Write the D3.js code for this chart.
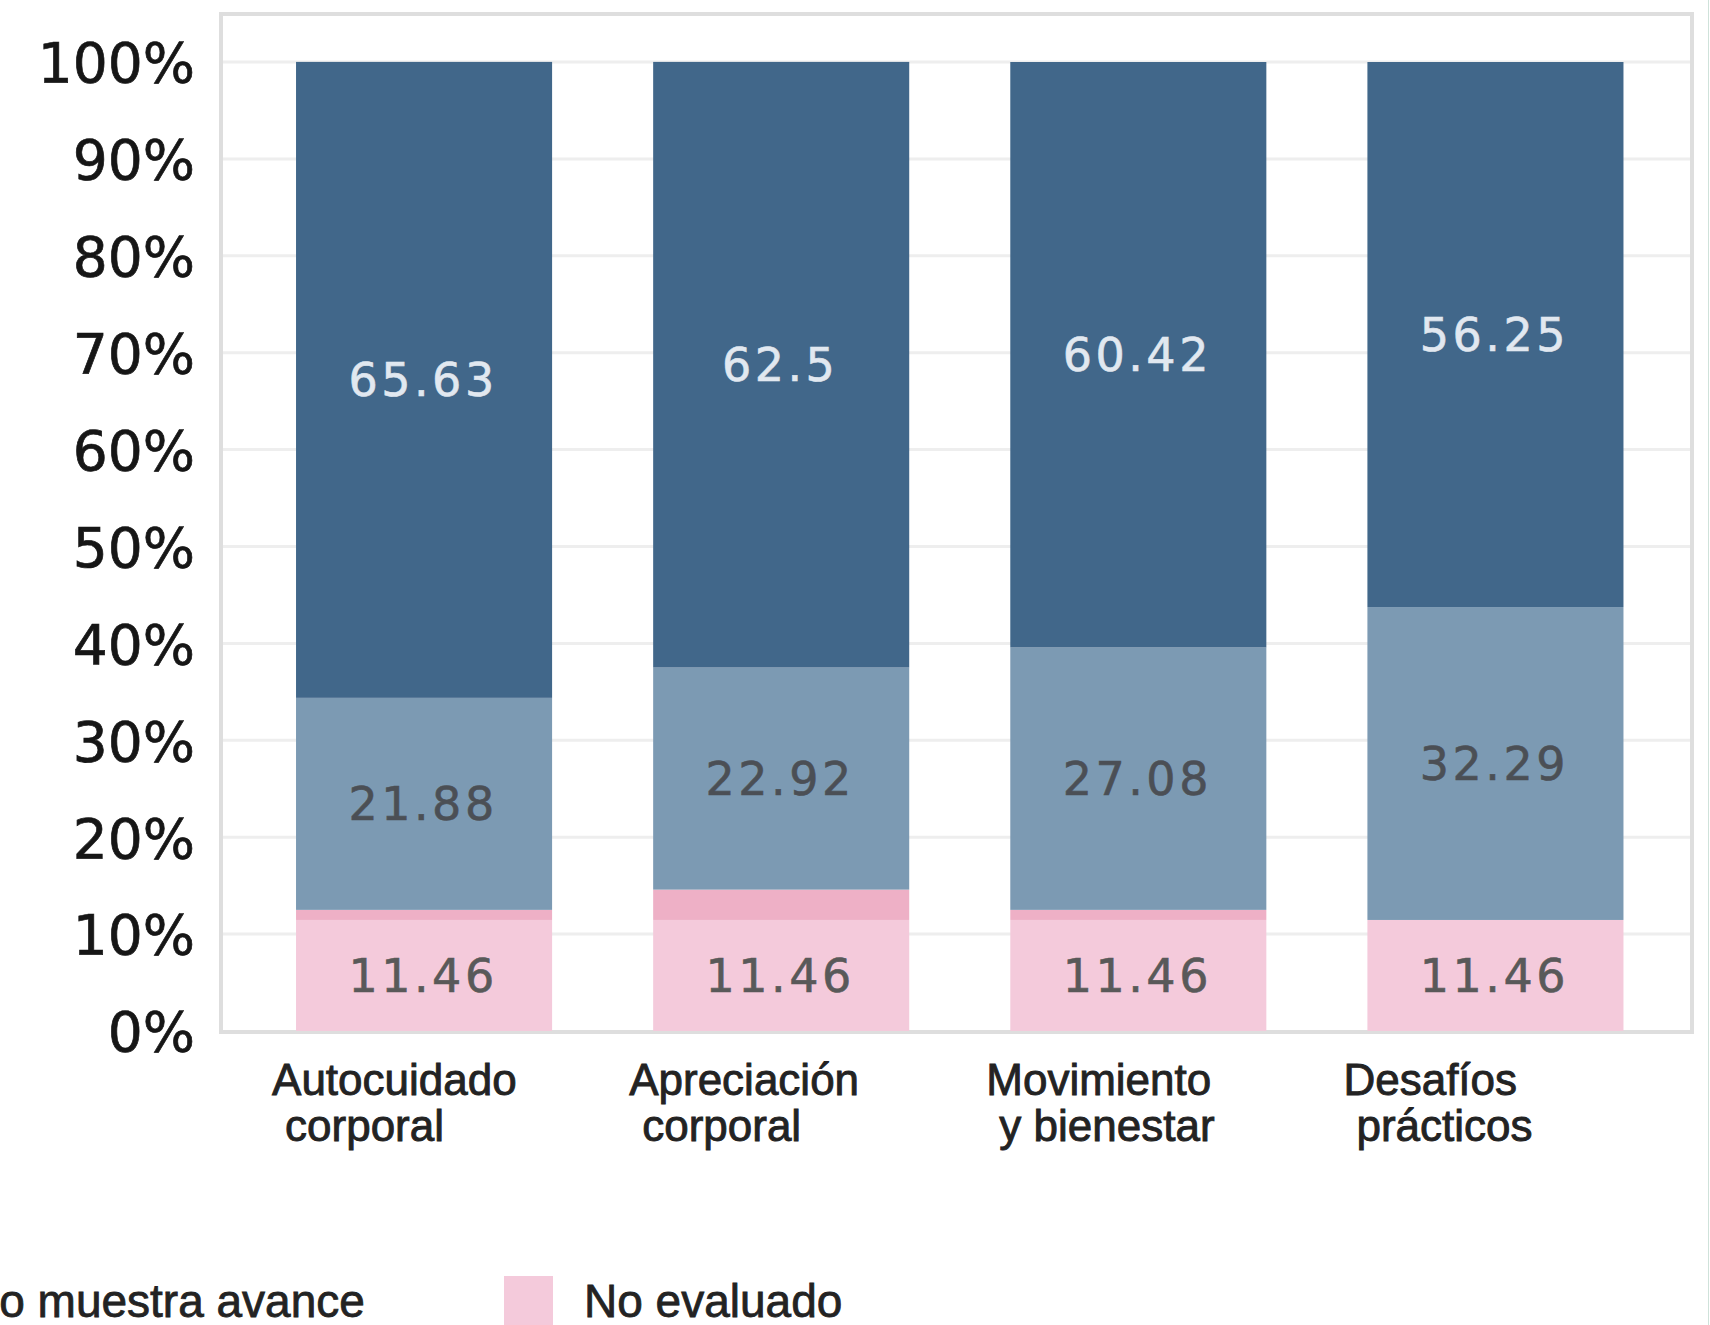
<!DOCTYPE html>
<html>
<head>
<meta charset="utf-8">
<script src="https://cdn.jsdelivr.net/npm/d3@7"></script>
<style>
  html, body { margin: 0; padding: 0; background: #ffffff; }
  svg { display: block; }
</style>
</head>
<body>
<svg id="chart" width="1710" height="1325"></svg>
<script>
// ---- data ----
const categories = ["Autocuidado\ncorporal", "Apreciación\ncorporal", "Movimiento\ny bienestar", "Desafíos\nprácticos"];
const seriesNames = ["No evaluado", "No muestra avance", "En proceso", "Logrado"];
const noEvaluado = [11.46, 11.46, 11.46, 11.46];
const noMuestraAvance = [1.04, 3.13, 1.04, 0];
const enProceso = [21.88, 22.92, 27.08, 32.29];
const logrado = [65.63, 62.5, 60.42, 56.25];
const yTickValues = [0, 10, 20, 30, 40, 50, 60, 70, 80, 90, 100];
const legendNames = ["No muestra avance", "No evaluado"];

// ---- styles ----
const colors = {
  "No evaluado": "#f4cadb",
  "No muestra avance": "#eeb0c6",
  "En proceso": "#7c9ab3",
  "Logrado": "#41678a"
};
const labelColors = {
  "No evaluado": "#595959",
  "No muestra avance": "#595959",
  "En proceso": "#4b4f55",
  "Logrado": "#e1e8f0"
};
const showLabel = { "No evaluado": true, "No muestra avance": false, "En proceso": true, "Logrado": true };

const seriesValues = [noEvaluado, noMuestraAvance, enProceso, logrado];
const rows = categories.map((c, i) => {
  const r = { category: c };
  seriesNames.forEach((s, j) => { r[s] = seriesValues[j][i]; });
  return r;
});

const svg = d3.select("#chart");

const frame = { left: 221, right: 1692, top: 14, bottom: 1032 };

const x = d3.scaleBand()
  .domain(categories)
  .range([245.5, 1674])
  .paddingInner(0.283)
  .paddingOuter(0.1415);

const y = d3.scaleLinear().domain([0, 100]).range([1031, 62]);

// gridlines
svg.append("g")
  .selectAll("line")
  .data(yTickValues.filter(d => d > 0))
  .join("line")
  .attr("x1", frame.left)
  .attr("x2", frame.right)
  .attr("y1", d => y(d))
  .attr("y2", d => y(d))
  .attr("stroke", "#eeeeee")
  .attr("stroke-width", 3);

// frame
svg.append("rect")
  .attr("x", frame.left)
  .attr("y", frame.top)
  .attr("width", frame.right - frame.left)
  .attr("height", frame.bottom - frame.top)
  .attr("fill", "none")
  .attr("stroke", "#dedede")
  .attr("stroke-width", 4);

// stacked bars
const stacked = d3.stack().keys(seriesNames)(rows);

const layers = svg.append("g")
  .selectAll("g")
  .data(stacked)
  .join("g")
  .attr("fill", d => colors[d.key]);

layers.selectAll("rect")
  .data(d => d)
  .join("rect")
  .attr("x", d => x(d.data.category))
  .attr("width", x.bandwidth())
  .attr("y", d => y(d[1]))
  .attr("height", d => Math.max(0, y(d[0]) - y(d[1])));

// value labels
const labelsG = svg.append("g")
  .attr("font-family", "'DejaVu Sans', sans-serif")
  .attr("font-size", 46)
  .attr("letter-spacing", 3.5)
  .attr("text-anchor", "middle");

stacked.forEach(layer => {
  if (!showLabel[layer.key]) return;
  labelsG.selectAll(null)
    .data(layer)
    .join("text")
    .attr("x", d => x(d.data.category) + x.bandwidth() / 2 - 1)
    .attr("y", d => y((d[0] + d[1]) / 2))
    .attr("dy", "0.36em")
    .attr("fill", labelColors[layer.key])
    .attr("stroke", labelColors[layer.key])
    .attr("stroke-width", 0.6)
    .text(d => String(d.data[layer.key]));
});

// y axis labels
const yAxis = d3.axisLeft(y)
  .tickValues(yTickValues)
  .tickFormat(d => d + "%")
  .tickSize(0)
  .tickPadding(0);

const yg = svg.append("g")
  .attr("transform", "translate(195,0)")
  .call(yAxis);
yg.select(".domain").remove();
yg.selectAll("text")
  .attr("font-family", "'DejaVu Sans', sans-serif")
  .attr("font-size", 55)
  .attr("fill", "#161616")
  .attr("stroke", "#161616")
  .attr("stroke-width", 0.7)
  .attr("dy", "0.36em");

// x axis labels (left-aligned lines, second line slightly indented)
const xAxis = d3.axisBottom(x).tickSize(0).tickFormat("");
const xg = svg.append("g").call(xAxis);
xg.select(".domain").remove();
xg.selectAll(".tick").each(function(d) {
  const lines = d.split("\n");
  const t = d3.select(this).append("text")
    .attr("font-family", "'Liberation Sans', Arial, sans-serif")
    .attr("font-size", 44)
    .attr("fill", "#232323")
    .attr("stroke", "#232323")
    .attr("stroke-width", 0.9)
    .attr("text-anchor", "start");
  lines.forEach((ln, i) => {
    t.append("tspan")
      .attr("x", -x.bandwidth() / 2 - 24 + i * 13)
      .attr("y", 1095 + i * 46)
      .text(ln);
  });
});

// legend
const legendItemStep = 618;
const legendStartX = 504 - legendItemStep;
const legend = svg.append("g")
  .selectAll("g")
  .data(legendNames)
  .join("g")
  .attr("transform", (d, i) => `translate(${legendStartX + i * legendItemStep},0)`);

legend.append("rect")
  .attr("x", 0)
  .attr("y", 1276)
  .attr("width", 49)
  .attr("height", 60)
  .attr("fill", d => colors[d]);

legend.append("text")
  .attr("x", 80)
  .attr("y", 1317)
  .attr("font-family", "'Liberation Sans', Arial, sans-serif")
  .attr("font-size", 46)
  .attr("fill", "#232323")
  .attr("stroke", "#232323")
  .attr("stroke-width", 0.8)
  .text(d => d);

// thin edge line at far right
svg.append("line")
  .attr("x1", 1708.5).attr("x2", 1708.5)
  .attr("y1", 0).attr("y2", 1325)
  .attr("stroke", "#cfe2da")
  .attr("stroke-width", 1);
</script>
</body>
</html>
